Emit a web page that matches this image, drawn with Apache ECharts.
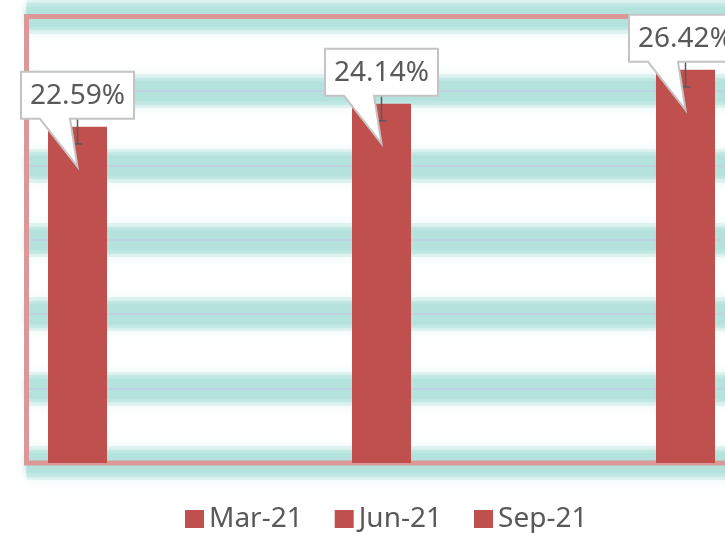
<!DOCTYPE html>
<html>
<head>
<meta charset="utf-8">
<script src="https://cdn.jsdelivr.net/npm/echarts@6/dist/echarts.min.js"></script>
<style>
html, body { margin: 0; padding: 0; background: #fff; }
#chart { width: 725px; height: 533px; }
</style>
</head>
<body>
<div id="chart"></div>
<script>
// quarters, values (%) and error bar sizes
var categories = ['Mar-21', 'Jun-21', 'Sep-21'];
var values = [22.59, 24.14, 26.42];
var errors = [1.15, 1.15, 1.15];
var yMin = 0, yMax = 30, yStep = 5;

var chart = echarts.init(document.getElementById('chart'));
var barColor = '#c0504d';
var textColor = '#595959';

var barSeries = categories.map(function (name, i) {
    return {
        name: name,
        type: 'bar',
        barWidth: 59,
        barGap: '-100%',
        z: 3,
        itemStyle: { color: barColor },
        data: [[i, values[i]]]
    };
});

function renderCallout(params, api) {
    var x = api.value(0), v = api.value(1), e = api.value(2);
    var top = api.coord([x, v]);
    var lo = api.coord([x, v - e]);
    var hi = api.coord([x, v + e]);
    var cx = top[0];
    var B = top[1] - 8, T = B - 47, L = cx - 56.5, R = cx + 56.5;
    var errStyle = { stroke: textColor, lineWidth: 1.5 };
    return {
        type: 'group',
        children: [
            { type: 'line', shape: { x1: cx, y1: hi[1], x2: cx, y2: lo[1] }, style: errStyle },
            { type: 'line', shape: { x1: cx - 5, y1: lo[1], x2: cx + 5, y2: lo[1] }, style: errStyle },
            { type: 'line', shape: { x1: cx - 5, y1: hi[1], x2: cx + 5, y2: hi[1] }, style: errStyle },
            {
                type: 'polygon',
                shape: { points: [[L, T], [R, T], [R, B], [cx - 7.5, B], [cx, top[1] + 40], [cx - 37.5, B], [L, B]] },
                style: { fill: '#fff', stroke: '#c4c4c4', lineWidth: 2 }
            },
            {
                type: 'text',
                style: {
                    text: v.toFixed(2) + '%',
                    x: cx, y: (T + B) / 2 + 1,
                    align: 'center', verticalAlign: 'middle',
                    fill: textColor,
                    font: '28px "Noto Sans"'
                }
            }
        ]
    };
}

// gridlines: soft teal glow built from a few stacked split lines, then a thin line on top
function gridAxis(z, lineStyle) {
    return {
        type: 'value', min: yMin, max: yMax, interval: yStep, z: z,
        axisLine: { show: false }, axisTick: { show: false }, axisLabel: { show: false },
        splitLine: { lineStyle: lineStyle }
    };
}
var glow = 'rgba(180,226,221,';

var option = {
    animation: false,
    grid: {
        left: 26.5, width: 710, top: 16.5, bottom: 70,
        outerBoundsMode: 'none',
        containLabel: false,
        show: true,
        z: 0,
        backgroundColor: 'transparent',
        borderColor: '#dc9898',
        borderWidth: 5
    },
    legend: {
        left: 185, top: 505,
        padding: 0,
        icon: 'rect',
        itemWidth: 19, itemHeight: 18, itemGap: 32,
        textStyle: { color: textColor, fontSize: 28, fontFamily: 'Noto Sans' },
        data: categories
    },
    xAxis: { type: 'value', min: -0.1678, max: 2.1678, show: false },
    yAxis: [
        gridAxis(-5, { color: glow + '0.3)', width: 34, shadowColor: glow + '0.6)', shadowBlur: 14 }),
        gridAxis(-4, { color: glow + '0.5)', width: 27, shadowColor: glow + '0.5)', shadowBlur: 8 }),
        gridAxis(-3, { color: glow + '1)', width: 20, shadowColor: glow + '1)', shadowBlur: 6 }),
        gridAxis(-2, { color: '#c6cde3', width: 1.5 })
    ],
    series: barSeries.concat([{
        type: 'custom',
        z: 10,
        silent: true,
        renderItem: renderCallout,
        data: values.map(function (v, i) { return [i, v, errors[i]]; })
    }])
};

chart.setOption(option);
</script>
</body>
</html>
